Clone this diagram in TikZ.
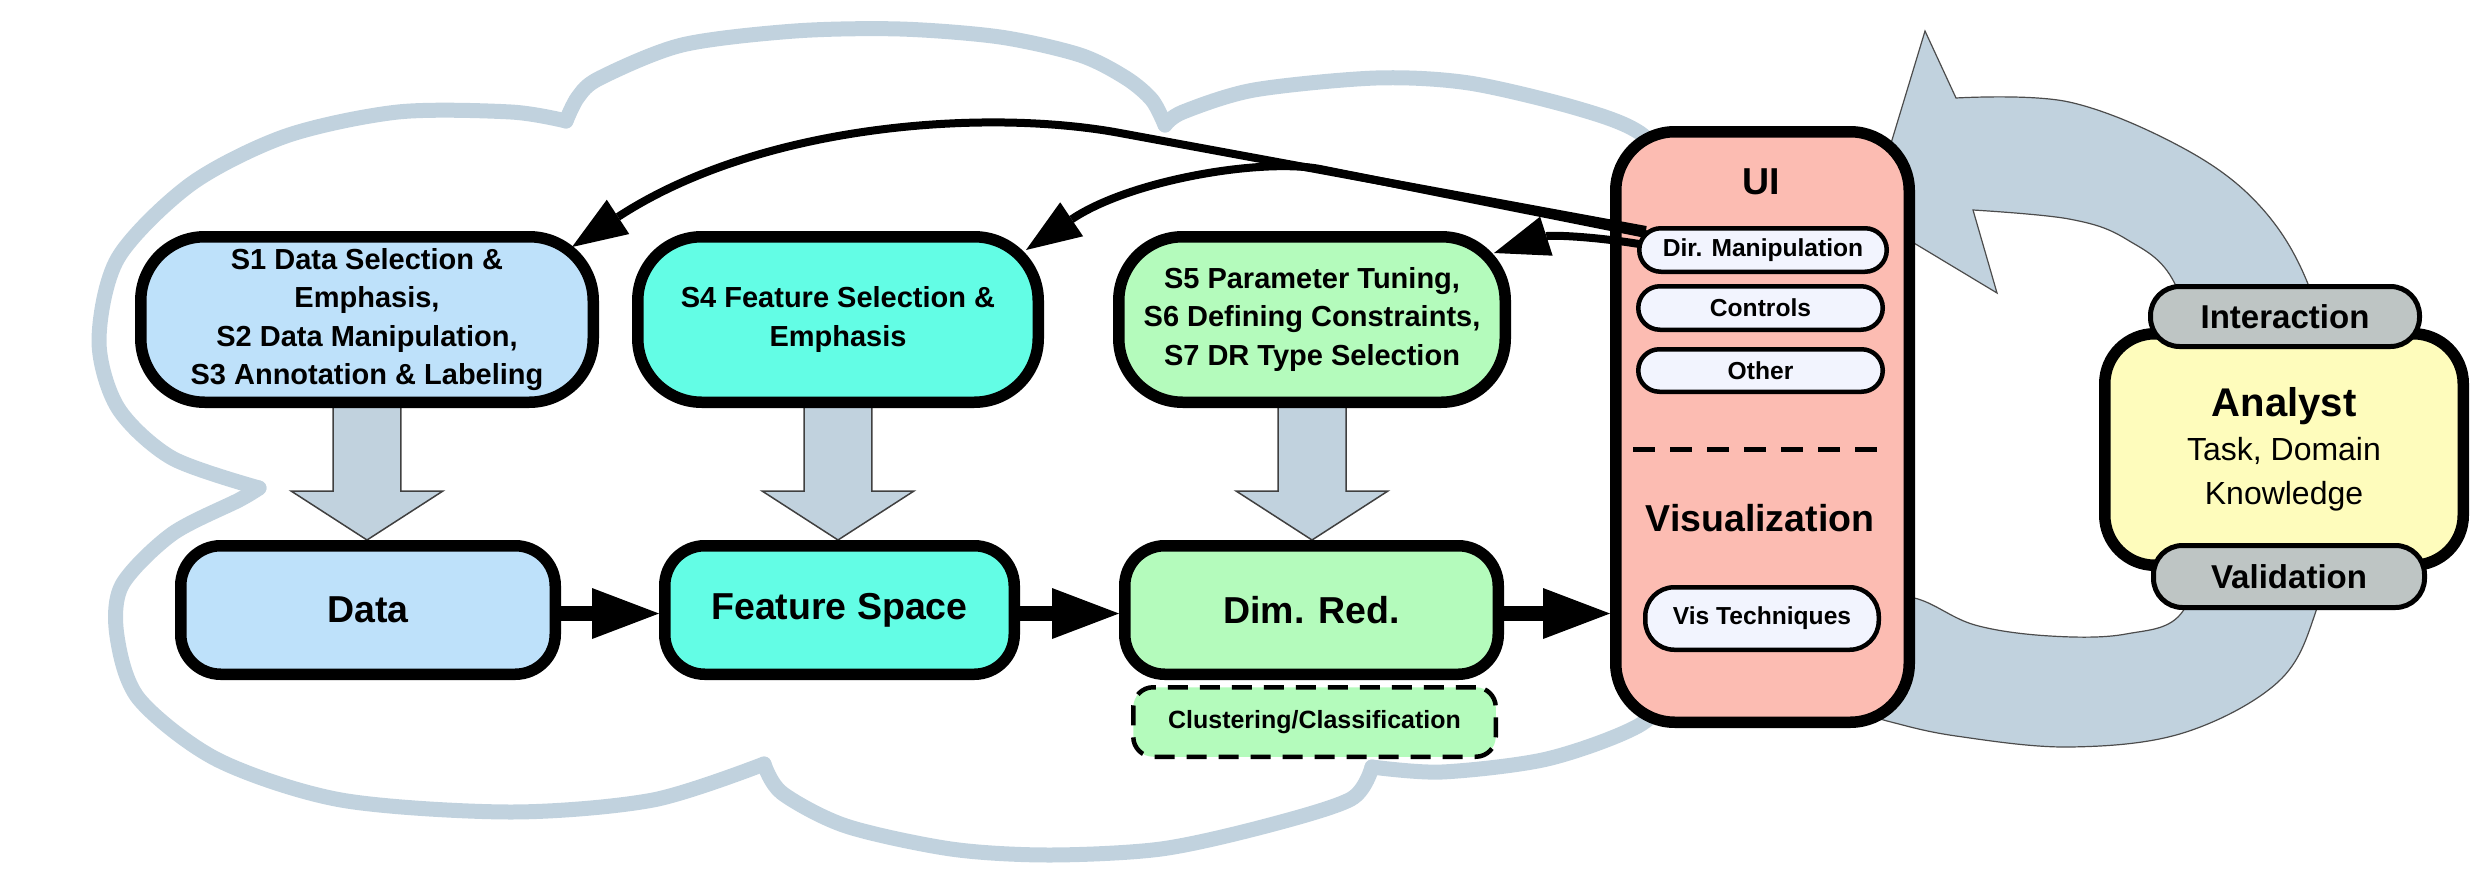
\documentclass[tikz,border=0pt]{standalone}
\usepackage{fontspec}
\setmainfont{Liberation Sans}
\usetikzlibrary{arrows.meta,calc}
\pgfdeclarelayer{back}
\pgfsetlayers{back,main}
\definecolor{cblue}{HTML}{BEE1FA}
\definecolor{caqua}{HTML}{63FDE5}
\definecolor{cgreen}{HTML}{B4FBBC}
\definecolor{csalmon}{HTML}{FCBCB2}
\definecolor{cpill}{HTML}{F2F4FE}
\definecolor{cyell}{HTML}{FEFCBC}
\definecolor{cgray}{HTML}{BEC5C4}
\definecolor{csteel}{HTML}{C1D2DE}
\newcommand\mkblockarrow[2]{%
  \draw[blockarr] let \p1=(#1.south), \p2=(#2.north) in
    (\x1-9.67pt,\y1+3pt) -- (\x1-9.67pt,\y2+13.94pt) -- (\x1-21.6pt,\y2+13.94pt) --
    (\x1,\y2) -- (\x1+21.6pt,\y2+13.94pt) -- (\x1+9.67pt,\y2+13.94pt) -- (\x1+9.67pt,\y1+3pt);}
\begin{document}
\begin{tikzpicture}[x=0.1mm,y=-0.1mm,
  sbox/.style={draw=black, line width=1.15mm, rounded corners=6.4mm, align=center, inner sep=0pt,
    font=\bfseries\fontsize{8.25}{10.95}\selectfont},
  mbox/.style={draw=black, line width=1.15mm, rounded corners=4mm, inner sep=0pt, minimum height=12.85mm,
    font=\bfseries\fontsize{10.67}{12.8}\selectfont},
  pill/.style={draw=black, fill=cpill, line width=0.45mm, inner sep=0pt,
    font=\bfseries\fontsize{7}{8.4}\selectfont},
  tagpill/.style={draw=black, fill=cgray, line width=0.5mm, rounded corners=2.9mm, inner sep=0pt,
    font=\bfseries\fontsize{9.4}{11}\selectfont},
  bigtext/.style={font=\bfseries\fontsize{10.67}{12.8}\selectfont, inner sep=0pt},
  blockarr/.style={fill=csteel, draw=black!75, line width=0.15mm, line join=miter},
  harrow/.style={line width=1.5mm, -{Triangle[length=6.7mm,width=5.1mm,line width=0pt]}},
  carrow/.style={line width=0.8mm, -{Triangle[length=5.5mm,width=4.1mm,line width=0pt]}},
  cloudline/.style={draw=csteel, line width=1.5mm, line cap=round, line join=round},
  bigloop/.style={fill=csteel, draw=black!70, line width=0.12mm},
]
\useasboundingbox (0,0) rectangle (2474,891);

% ---- pipeline boxes
\node[sbox, fill=cblue, minimum width=45.25mm, minimum height=16.55mm] (s1) at (367,319.5)
  {S1 Data Selection \&\\Emphasis,\\S2 Data Manipulation,\\S3 Annotation \& Labeling};
\node[sbox, fill=caqua, minimum width=40.05mm, minimum height=16.55mm] (s4) at (838,319.5)
  {S4 Feature Selection \&\\Emphasis};
\node[sbox, fill=cgreen, minimum width=38.65mm, minimum height=16.55mm] (s5) at (1312,319.5)
  {S5 Parameter Tuning,\\S6 Defining Constraints,\\S7 DR Type Selection};

\node[mbox, fill=cblue, minimum width=37.45mm] (data) at (368,610) {Data};
\node[mbox, fill=caqua, minimum width=34.95mm] (fs) at (839.5,610) {Feature Space};
\node[mbox, fill=cgreen, minimum width=37.35mm] (dr) at (1311.5,610) {Dim. Red.};
\node[draw=black, fill=cgreen, line width=0.45mm, dash pattern=on 2mm off 1.2mm, rounded corners=2mm,
  minimum width=36.25mm, minimum height=6.95mm, inner sep=0pt,
  font=\bfseries\fontsize{7.1}{8.5}\selectfont] (cl) at (1314.5,722) {Clustering/Classification};

% ---- UI box
\node[draw=black, fill=csalmon, line width=1.15mm, rounded corners=5.9mm, minimum width=29.35mm,
  minimum height=59.05mm, inner sep=0pt] (ui) at (1762.5,427) {};
\node[bigtext] (uilbl) at (1761,182) {UI};
\node[pill, rounded corners=2.17mm, minimum width=24.75mm, minimum height=4.35mm] (dm) at (1763,250) {Dir. Manipulation};
\node[pill, rounded corners=2.17mm, minimum width=24.45mm, minimum height=4.35mm] (ctl) at (1760.5,308) {Controls};
\node[pill, rounded corners=2.12mm, minimum width=24.45mm, minimum height=4.25mm] (oth) at (1760.5,370.5) {Other};
\draw[line width=0.5mm, dash pattern=on 2.2mm off 1.5mm] ($(ui.west)+(23,22)$) -- ($(ui.east)+(-30,22)$);
\node[bigtext] (vislbl) at (1760,518) {Visualization};
\node[pill, rounded corners=2.9mm, minimum width=23.35mm, minimum height=6.25mm] (vt) at (1762,618.5) {Vis Techniques};

% ---- Analyst
\node[draw=black, fill=cyell, line width=1.15mm, rounded corners=5mm, minimum width=35.85mm,
  minimum height=23.15mm, inner sep=0pt, align=center, font=\fontsize{9.1}{12.5}\selectfont] (an) at (2284,449.5)
  {{\bfseries\fontsize{11.4}{13}\selectfont Analyst}\\Task, Domain\\Knowledge};
\node[tagpill, minimum width=26.9mm, minimum height=6mm] (inter) at (2285,316.5) {Interaction};
\node[tagpill, minimum width=27.1mm, minimum height=6.2mm] (vali) at (2289,576.5) {Validation};

% ---- connectors
\coordinate (t1) at ($(s1.north east)+(-27,16)$);
\coordinate (t2) at ($(s4.north east)+(-18,19)$);
\coordinate (t3) at ($(s5.north east)+(-17,22)$);
\coordinate (a1) at ($(dm.west)+(9,-20)$);
\coordinate (a2) at ($(dm.west)+(9,-16)$);
\coordinate (a3) at ($(dm.west)+(2,-6)$);
\draw[carrow] (a1) -- (1120,133) .. controls (985,108) and (760,124) .. (t1);
\draw[carrow] (a2) -- (1320,169) .. controls (1261,158) and (1130,180) .. (t2);
\draw[carrow] (a3) .. controls (1590,236) and (1550,235) .. (t3);

\draw[harrow] ([yshift=-1pt]data.east) -- ([yshift=-1pt]fs.west);
\draw[harrow] ([yshift=-1pt]fs.east) -- ([yshift=-1pt]dr.west);
\draw[harrow] ([yshift=-1pt]dr.east) -- ([yshift=-1pt]dr.east -| ui.west);

\begin{pgfonlayer}{back}
  % cloud
  \draw[cloudline] plot[smooth] coordinates {(566,121) (578,97) (600,78) (682,45) (795,31) (900,29) (1000,37) (1080,55) (1126,78) (1152,100) (1165,125)};
  \draw[cloudline] plot[smooth] coordinates {(1165,125) (1183,112) (1254,90) (1376,78) (1469,83) (1576,108) (1640,133) (1690,185)};
  \draw[cloudline] plot[smooth] coordinates {(566,121) (511,112) (398,112) (286,136) (191,184) (118,258) (99,341) (118,408) (172,458) (259,488)};
  \draw[cloudline] plot[smooth] coordinates {(259,488) (239,500) (172,534) (122,585) (117,636) (139,699) (218,760) (341,800) (511,812) (653,800) (764,764)};
  \draw[cloudline] plot[smooth] coordinates {(764,764) (782,793) (846,826) (951,849) (1049,855) (1161,849) (1266,826) (1351,799) (1372,767)};
  \draw[cloudline] plot[smooth] coordinates {(1372,767) (1442,772) (1547,759) (1638,726) (1690,680)};
  % big loop arrow
  \filldraw[bigloop] (1925,31) -- (1956,98) -- plot[smooth, tension=0.6] coordinates {(1956,98) (2069,102) (2183,148) (2259,205) (2308,284) (2338,400) (2334,520) (2316,611) (2278,682) (2183,733) (2069,747) (1956,736) (1891,722) (1860,712)}
     -- (1860,590) -- plot[smooth, tension=0.6] coordinates {(1860,590) (1918,599) (1975,625) (2050,636) (2126,634) (2183,611) (2205,520) (2205,400) (2175,284) (2126,239) (2069,219) (1973,210)}
     -- (1997,293) -- (1869,216) -- cycle;
  % block arrows
  \mkblockarrow{s1}{data}
  \mkblockarrow{s4}{fs}
  \mkblockarrow{s5}{dr}
\end{pgfonlayer}
\end{tikzpicture}
\end{document}
